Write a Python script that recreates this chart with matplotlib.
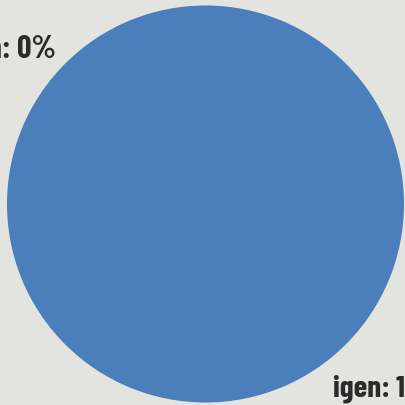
import matplotlib
matplotlib.use("Agg")
import matplotlib.pyplot as plt

# answer shares (percent)
labels = ["igen", "nem"]
values = [100, 0]
colors = ["#4a7fbb", "#c8c8c8"]

bg = "#e3e3df"

fig = plt.figure(figsize=(4.06, 4.06), dpi=100, facecolor=bg)
ax = fig.add_axes([0, 0, 1, 1])
ax.set_facecolor(bg)

# work in pixel-like units so the photo crop lines up
ax.pie(values, colors=colors, center=(205.5, 205), radius=198.5,
       startangle=90, counterclock=False,
       wedgeprops=dict(linewidth=0))
ax.set_xlim(0, 406)
ax.set_ylim(406, 0)
ax.set_aspect("equal")
ax.axis("off")

font = ["Barlow Condensed", "Archivo Narrow", "DejaVu Sans"]
ax.text(56, 58, f"{labels[1]}: {values[1]}%", ha="right", va="baseline",
        fontsize=23, fontweight="bold", color="#2b2b2b", family=font)
ax.text(333, 397, f"{labels[0]}: {values[0]}%", ha="left", va="baseline",
        fontsize=22.5, fontweight="bold", color="#2b2b2b", family=font)

fig.savefig("out.png", dpi=100, facecolor=bg)
